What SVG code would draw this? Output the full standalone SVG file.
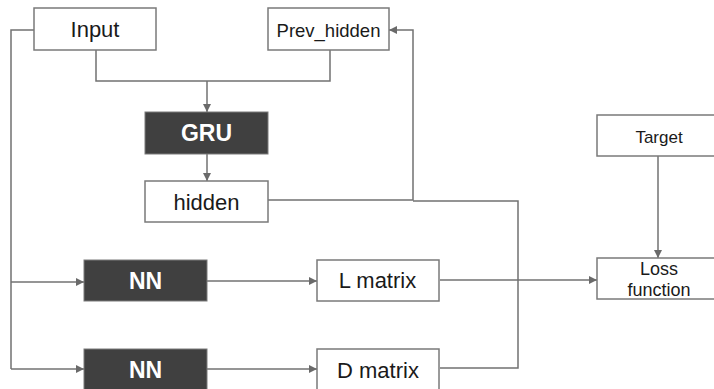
<svg xmlns="http://www.w3.org/2000/svg" width="714" height="389" viewBox="0 0 714 389">
<defs>
<marker id="ah" viewBox="0 0 10 10" refX="10" refY="5" markerWidth="8" markerHeight="8" markerUnits="userSpaceOnUse" orient="auto">
<path d="M0,0 L10,5 L0,10 z" fill="#6a6a6a"/>
</marker>
<style>
.box{fill:#ffffff;stroke:#7a7a7a;stroke-width:1.5}
.dark{fill:#404040;stroke:#7a7a7a;stroke-width:1}
.t{font-family:"Liberation Sans",Arial,sans-serif;fill:#1a1a1a;text-anchor:middle}
.w{font-family:"Liberation Sans",Arial,sans-serif;fill:#ffffff;font-weight:bold;text-anchor:middle;font-size:23px}
.c{fill:none;stroke:#727272;stroke-width:1.5}
.a{fill:none;stroke:#727272;stroke-width:1.5;marker-end:url(#ah)}
</style>
</defs>
<rect width="714" height="389" fill="#ffffff"/>
<g id="connectors">
<path class="c" d="M96,50 V81 H330 V50"/>
<path class="a" d="M207,81 V112"/>
<path class="a" d="M207,154 V181"/>
<path class="a" d="M268,200 H413 V30 H389"/>
<path class="c" d="M413,201 H518 V368 H440"/>
<path class="a" d="M440,280 H518 H597"/>
<path class="c" d="M34,30 H11 V369"/>
<path class="a" d="M11,369 H84"/>
<path class="a" d="M11,282 H84"/>
<path class="a" d="M207,281 H317"/>
<path class="a" d="M207,369 H317"/>
<path class="a" d="M658,156 V258"/>
</g>
<g id="input"><rect class="box" x="34" y="8" width="122" height="42"/><text class="t" x="95" y="37" font-size="22">Input</text></g>
<g id="prev_hidden"><rect class="box" x="268" y="8" width="121" height="42"/><text class="t" x="328.5" y="36.5" font-size="18.5">Prev_hidden</text></g>
<g id="gru"><rect class="dark" x="145" y="112" width="123" height="42"/><text class="w" x="206.5" y="141">GRU</text></g>
<g id="hidden"><rect class="box" x="145" y="181" width="123" height="41"/><text class="t" x="206.5" y="210" font-size="22">hidden</text></g>
<g id="nn1"><rect class="dark" x="84" y="260" width="123" height="41"/><text class="w" x="145.5" y="288.5">NN</text></g>
<g id="nn2"><rect class="dark" x="84" y="349" width="123" height="42"/><text class="w" x="145.5" y="377.5">NN</text></g>
<g id="l_matrix"><rect class="box" x="317" y="260" width="122" height="41"/><text class="t" x="377.5" y="288" font-size="22">L matrix</text></g>
<g id="d_matrix"><rect class="box" x="317" y="349" width="122" height="42"/><text class="t" x="378" y="377.5" font-size="22">D matrix</text></g>
<g id="target"><rect class="box" x="597" y="115" width="124" height="41"/><text class="t" x="659" y="142.5" font-size="17">Target</text></g>
<g id="loss"><rect class="box" x="597" y="258" width="124" height="41"/><text class="t" x="659" y="275" font-size="18">Loss</text><text class="t" x="659" y="296" font-size="18">function</text></g>
</svg>
